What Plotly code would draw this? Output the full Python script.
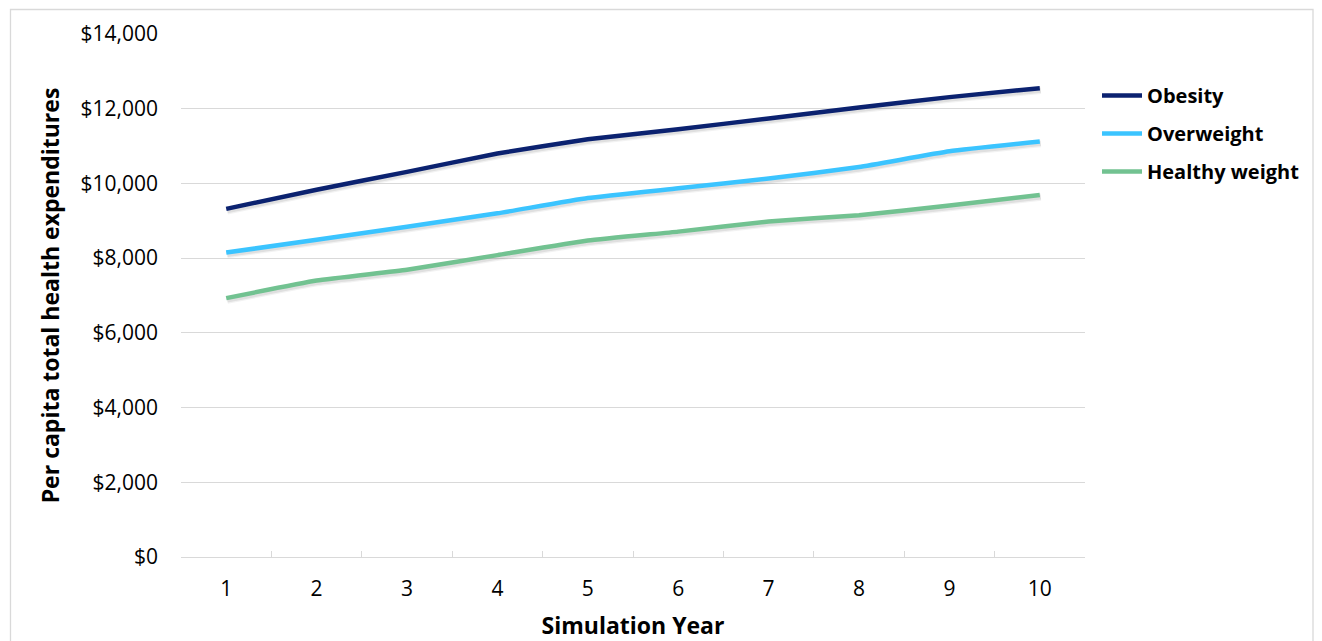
import plotly.graph_objects as go

years = ["1", "2", "3", "4", "5", "6", "7", "8", "9", "10"]
obesity = [9320, 9830, 10310, 10800, 11180, 11450, 11740, 12030, 12310, 12550]
overweight = [8150, 8490, 8840, 9200, 9610, 9870, 10130, 10440, 10860, 11120]
healthy = [6930, 7400, 7690, 8080, 8470, 8710, 8980, 9150, 9410, 9690]
y_ticks = [0, 2000, 4000, 6000, 8000, 10000, 12000, 14000]

series = [
    ("Obesity", obesity, "#0B2270"),
    ("Overweight", overweight, "#3BC4FF"),
    ("Healthy weight", healthy, "#72C291"),
]

FONT = "Open Sans"
# page has an 8px body margin; figure drawn in its own coords
W, H = 1314, 633
L, R, T, B = 173, 237, 26, 84
pw, ph = W - L - R, H - T - B
YMAX = 14000
# shadow offset in pixels
SDX, SDY = 1.0, 2.0
dx = SDX / pw * 10
dy = SDY / ph * YMAX

fig = go.Figure()
# soft drop shadows (base axes, hidden)
for name, vals, col in series:
    for w, a in ((7.5, 0.05), (5.0, 0.08)):
        fig.add_trace(go.Scatter(
            x=years, y=vals, mode="lines", showlegend=False, hoverinfo="skip",
            line=dict(color=f"rgba(0,0,0,{a})", width=w, shape="spline", smoothing=0.4),
            xaxis="x", yaxis="y",
        ))
# main lines (overlay axes, visible)
for i, (name, vals, col) in enumerate(series):
    fig.add_trace(go.Scatter(
        x=years, y=vals, name=name, mode="lines",
        line=dict(color=col, width=4.5, shape="spline", smoothing=0.4),
        legendgroup=f"g{i}", xaxis="x2", yaxis="y2",
    ))

fig.update_layout(
    width=W, height=H,
    margin=dict(l=L, r=R, t=T, b=B, autoexpand=False),
    paper_bgcolor="white", plot_bgcolor="white",
    font=dict(family=FONT, color="#000000", size=20),
    showlegend=True,
    legend=dict(
        x=(1089 - L) / pw, y=1 - (68 - T) / ph, xanchor="left", yanchor="top",
        font=dict(family=FONT, size=20, color="#000000", weight="bold"),
        tracegroupgap=9, itemwidth=40, bgcolor="rgba(0,0,0,0)",
    ),
    xaxis=dict(
        type="category", range=[-0.5 - dx, 9.5 - dx], visible=False,
        showgrid=False, zeroline=False, automargin=False,
    ),
    yaxis=dict(
        range=[0 + dy, YMAX + dy], visible=False, showgrid=False, zeroline=False,
        automargin=False,
    ),
    xaxis2=dict(
        type="category", range=[-0.5, 9.5], overlaying="x", side="bottom",
        anchor="y2", automargin=False,
        showgrid=False, showline=True, linecolor="#D9D9D9", linewidth=1.3,
        ticks="inside", ticklen=6, tickcolor="#D9D9D9", tickson="boundaries",
        tickfont=dict(family=FONT, size=21, color="#000000"),
        ticklabelstandoff=13,
        title=dict(text="Simulation Year", standoff=17,
                   font=dict(family=FONT, size=23, color="#000000", weight="bold")),
        zeroline=False,
    ),
    yaxis2=dict(
        range=[0, YMAX], tickvals=y_ticks, overlaying="y", side="left",
        anchor="x2", automargin=False,
        ticktext=[f"${v:,}" for v in y_ticks],
        showgrid=True, gridcolor="#D9D9D9", gridwidth=1.2,
        showline=False, zeroline=False, ticks="",
        tickfont=dict(family=FONT, size=21, color="#000000"),
        ticklabelstandoff=22,
        title=dict(text="Per capita total health expenditures", standoff=14,
                   font=dict(family=FONT, size=23, color="#000000", weight="bold")),
    ),
)

# outer chart border
fig.add_shape(
    type="rect", xref="paper", yref="paper",
    x0=(2.5 - L) / pw, x1=(1305 - L) / pw,
    y0=1 + (T - 660) / ph, y1=1 + (T - 1.5) / ph,
    line=dict(color="#D9D9D9", width=1.3), fillcolor="rgba(0,0,0,0)", layer="below",
)

fig.write_html("out.html")
